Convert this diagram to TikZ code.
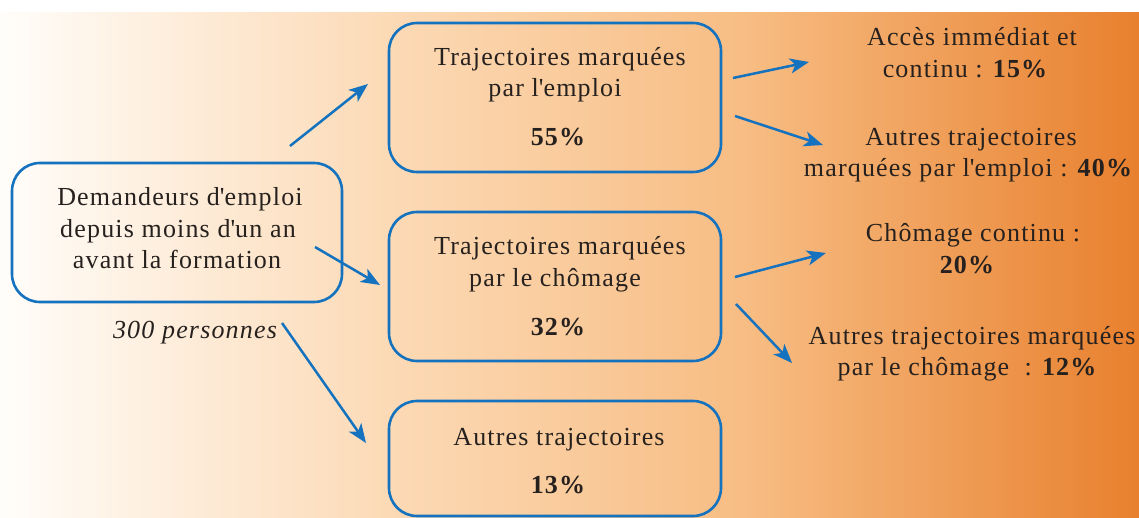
\documentclass[tikz,border=0pt]{standalone}
\usepackage{fontspec}
\setmainfont{Liberation Serif}[LetterSpace=4.5]
\usetikzlibrary{arrows.meta}
\definecolor{bl}{RGB}{20,114,190}
\definecolor{tx}{RGB}{38,33,30}
\definecolor{gza}{RGB}{255,253,250}
\definecolor{gzb}{RGB}{252,218,182}
\definecolor{gzc}{RGB}{247,188,130}
\definecolor{gzd}{RGB}{232,128,46}
\pgfdeclarehorizontalshading{bgshade}{100bp}{color(0bp)=(gza); color(25bp)=(gza); color(42bp)=(gzb); color(58bp)=(gzc); color(75bp)=(gzd); color(100bp)=(gzd)}
\tikzset{
  box/.style={draw=bl, line width=2.6pt, rounded corners=28pt, inner sep=0pt},
  txt/.style={anchor=base, inner sep=0pt, text=tx},
  arr/.style={draw=bl, line width=2.5pt, -{Stealth[length=19pt,width=15pt,inset=5pt]}}
}
\begin{document}
\begin{tikzpicture}[x=1pt,y=-1pt,font=\fontsize{26}{31.5}\selectfont]
\useasboundingbox (0,0) rectangle (1139,518);
\fill[white] (0,0) rectangle (1139,518);
\shade[shading=bgshade] (0,13) rectangle (1139,518);

% boxes
\node[box, minimum width=330pt, minimum height=139pt] (src) at (177,232.5) {};
\node[box, minimum width=332pt, minimum height=149pt] (emp) at (555,97.5) {};
\node[box, minimum width=332pt, minimum height=149pt] (cho) at (555,286.5) {};
\node[box, minimum width=332pt, minimum height=115pt] (aut) at (555,458.5) {};

% left box text
\node[txt] (srca) at (180,206) {Demandeurs d\textquotesingle emploi};
\node[txt] (srcb) at (178,238) {depuis moins d\textquotesingle un an};
\node[txt] (srcc) at (177,269) {avant la formation};
\node[txt, font=\fontsize{26}{31.5}\selectfont\itshape] (pers) at (195,338) {300 personnes};

% middle boxes text
\node[txt] (empa) at (560,66) {Trajectoires marquées};
\node[txt] (empb) at (555,97) {par l\textquotesingle emploi};
\node[txt] (empc) at (558,146) {\bfseries 55\%};

\node[txt] (choa) at (560,255) {Trajectoires marquées};
\node[txt] (chob) at (555,287) {par le chômage};
\node[txt] (choc) at (558,335) {\bfseries 32\%};

\node[txt] (auta) at (559,445) {Autres trajectoires};
\node[txt] (autb) at (558,493) {\bfseries 13\%};

% right texts
\node[txt] (ra) at (972,46) {Accès immédiat et};
\node[txt] (rb) at (965,78) {continu : \bfseries 15\%};
\node[txt] (rc) at (971,146) {Autres trajectoires};
\node[txt] (rd) at (968,177) {marquées par l\textquotesingle emploi : \bfseries 40\%};
\node[txt] (re) at (973,242) {Chômage continu :};
\node[txt] (rf) at (967,273) {\bfseries 20\%};
\node[txt] (rg) at (972,344) {Autres trajectoires marquées};
\node[txt] (rh) at (967,375) {par le chômage\ \ : \bfseries 12\%};

% arrow end points
\coordinate (aas) at (290,146); \coordinate (aae) at (368,84);
\coordinate (abs) at (315,247); \coordinate (abe) at (380,285);
\coordinate (acs) at (282,323); \coordinate (ace) at (366,443);
\coordinate (ads) at (733,78);  \coordinate (ade) at (809,62);
\coordinate (aes) at (735,116); \coordinate (aee) at (823,145);
\coordinate (afs) at (735,277); \coordinate (afe) at (826,253);
\coordinate (ags) at (736,304); \coordinate (age) at (792,363);

\draw[arr] (aas) -- (aae);
\draw[arr] (abs) -- (abe);
\draw[arr] (acs) -- (ace);
\draw[arr] (ads) -- (ade);
\draw[arr] (aes) -- (aee);
\draw[arr] (afs) -- (afe);
\draw[arr] (ags) -- (age);
\end{tikzpicture}
\end{document}
